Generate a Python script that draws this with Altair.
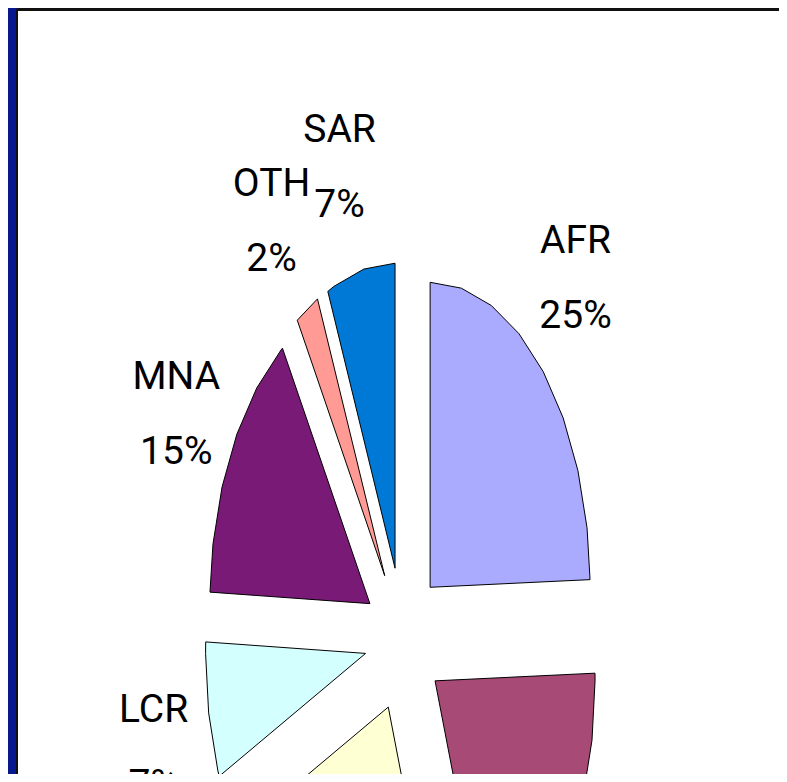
import math
import altair as alt
import pandas as pd

# ---- data ----
regions = ["AFR", "EAP", "ECA", "LCR", "MNA", "OTH", "SAR"]
shares = [24.6, 19.8, 24.0, 7.2, 15.2, 2.3, 6.9]
colors = ["#aaabfe", "#a84a76", "#ffffd4", "#d4ffff", "#7a1a77", "#ff9a94", "#0078d6"]

# ---- layout / style ----
W, H = 762, 766
EXPLODE = 0.24      # slice offset, as fraction of radius
STEP = 11.25        # polygonal arc resolution (degrees)
LABEL_R = 1.6       # label distance from pie centre
LABEL_ROT = -2.0    # label angular shift (degrees)
PX_X, PX_Y = 160.0, 305.0   # pixels per radius unit (stretched ellipse)
CX, CY = 386.3, 631.7       # pie centre in view pixels
LINE_H = 75

x_dom = [-CX / PX_X, (W - CX) / PX_X]
y_dom = [(CY - H) / PX_Y, CY / PX_Y]

rows, labels = [], []
total = sum(shares)
start = 0.0
for reg, val in zip(regions, shares):
    a0 = start
    a1 = start + 360.0 * val / total
    mid = math.radians((a0 + a1) / 2)
    ox, oy = EXPLODE * math.sin(mid), EXPLODE * math.cos(mid)
    inner = [k * STEP for k in range(int(a0 // STEP) + 1, int(math.ceil(a1 / STEP)))]
    angles = [a0] + inner + [a1]
    pts = [(ox, oy)] + [(ox + math.sin(math.radians(a)), oy + math.cos(math.radians(a))) for a in angles]
    for i, (x, y) in enumerate(pts):
        rows.append({"region": reg, "idx": i, "x": x, "y": y})
    la = mid + math.radians(LABEL_ROT)
    labels.append({"region": reg, "label": f"{reg}\n{round(val)}%",
                   "x": LABEL_R * math.sin(la), "y": LABEL_R * math.cos(la)})
    start = a1

poly = pd.DataFrame(rows)
lab = pd.DataFrame(labels)

xs = alt.Scale(domain=x_dom, nice=False, zero=False)
ys = alt.Scale(domain=y_dom, nice=False, zero=False)

slices = alt.Chart(poly).mark_line(
    filled=True, interpolate="linear-closed", stroke="black", strokeWidth=1, clip=True
).encode(
    x=alt.X("x:Q", scale=xs, axis=None),
    y=alt.Y("y:Q", scale=ys, axis=None),
    color=alt.Color("region:N", scale=alt.Scale(domain=regions, range=colors), legend=None),
    detail="region:N",
    order=alt.Order("idx:Q"),
)

text = alt.Chart(lab).mark_text(
    font="Roboto, Liberation Sans, DejaVu Sans",
    fontSize=39, lineBreak="\n", lineHeight=LINE_H, align="center", baseline="middle",
    dy=-LINE_H / 2, color="black",
).encode(
    x=alt.X("x:Q", scale=xs, axis=None),
    y=alt.Y("y:Q", scale=ys, axis=None),
    text="label:N",
)

left_border = alt.Chart(poly).mark_rule(color="#111111", strokeWidth=2).encode(
    x=alt.value(0), y=alt.value(1.5), y2=alt.value(H)
)
top_border = alt.Chart(poly).mark_rule(color="#111111", strokeWidth=2).encode(
    x=alt.value(0), x2=alt.value(W), y=alt.value(1.5)
)

chart = alt.layer(slices, text, left_border, top_border).properties(
    width=W, height=H,
    background="#07198c",
    padding={"left": 9, "top": 0, "right": 0, "bottom": 0},
    autosize=alt.AutoSizeParams(type="none"),
).configure_view(fill="white", strokeOpacity=0)

chart.save("out.html", embed_options={"renderer": "svg", "actions": False})
